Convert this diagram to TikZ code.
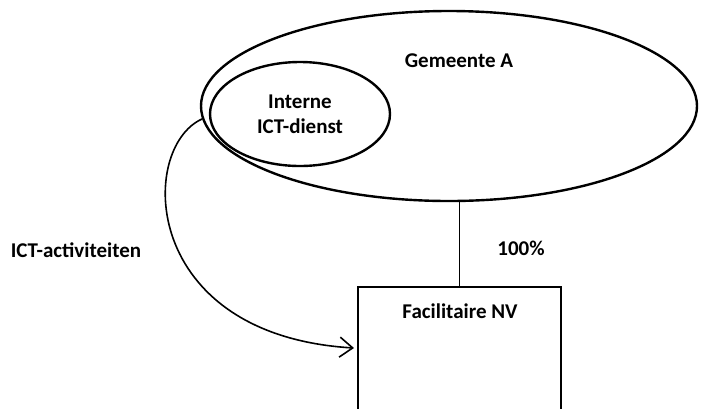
\documentclass[tikz,border=0pt]{standalone}
\usepackage{fontspec}
\setmainfont{Carlito}
\usetikzlibrary{shapes.geometric,arrows.meta}
\begin{document}
\begin{tikzpicture}[x=1pt,y=-1pt,
  lbl/.style={font=\fontsize{21}{25}\selectfont\bfseries, align=center, inner sep=0pt},
  shape line/.style={draw=black, line width=2.4pt},
  conn/.style={draw=black, line width=1.6pt}]
\useasboundingbox (0,0) rectangle (708,408);
\node (gem) [shape line, ellipse, minimum width=496pt, minimum height=190pt, inner sep=0pt] at (449,106) {};
\node (gemlbl) [lbl] at (459,61) {Gemeente A};
\node (ict) [shape line, ellipse, minimum width=180pt, minimum height=104pt, inner sep=0pt, lbl] at (300,114) {Interne\\ICT-dienst};
\node (nv) [shape line, rectangle, minimum width=203pt, minimum height=160pt, anchor=north, inner sep=0pt] at (459.5,286) {};
\node (nvlbl) [lbl] at (460,311) {Facilitaire NV};
\node (pct) [lbl] at (521,248) {100\%};
\node (act) [lbl] at (76,250) {ICT-activiteiten};
\draw[conn] (nv.north) -- (gem.south -| nv.north);
\coordinate (tip) at (354,348);
\draw[conn, -{Straight Barb[length=13pt,width=20pt,line width=1.6pt]}] (gem.183.5) .. controls (138,148) and (140,335) .. (tip);
\end{tikzpicture}
\end{document}
